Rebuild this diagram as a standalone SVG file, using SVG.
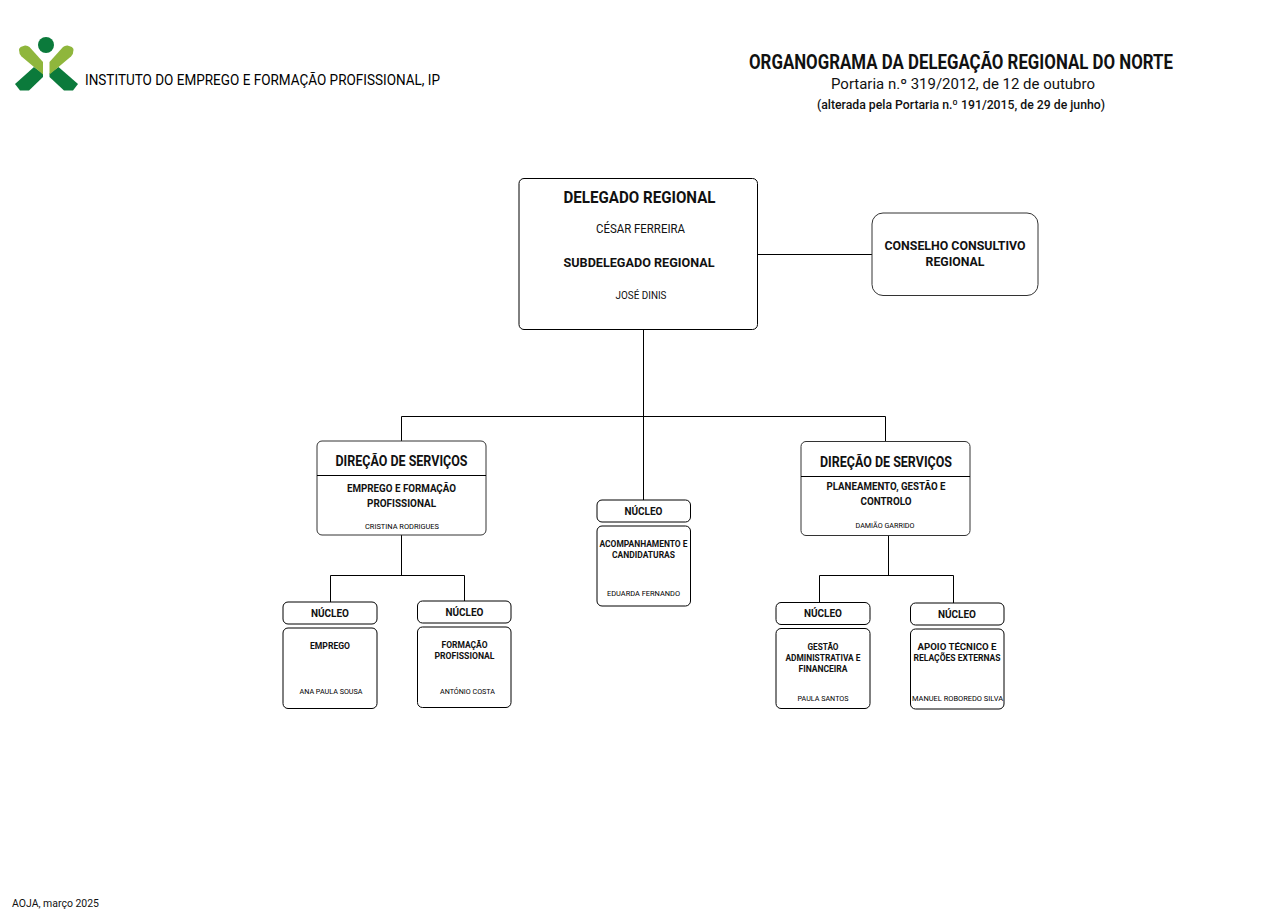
<svg xmlns="http://www.w3.org/2000/svg" width="1274" height="923" viewBox="0 0 1274 923">
<style>
text{font-family:"Roboto","Liberation Sans",sans-serif;fill:#111;text-anchor:middle}
.b{font-weight:700}
.m{font-weight:500}
.n{fill:#000}
.box{fill:#fff;stroke:#000;stroke-width:1}
.grey{fill:#fff;stroke:#333;stroke-width:1}
.c{fill:none;stroke:#000;stroke-width:1}
.lg{fill:#0b7a3b}
.ll{fill:#8fb63c}
</style>
<rect width="1274" height="923" fill="#fff"/>
<g id="logo">
<circle class="lg" cx="46" cy="45" r="8"/>
<path class="lg" d="M15 84L34 67L43 73.500V77L29 90.500H20Z"/>
<path class="lg" d="M78 84L58.500 67L49.500 73.500V77L64 90.500H73Z"/>
<path class="ll" d="M19 50Q19 47.500 22 46.500L25 45.500Q27.500 45.300 29.500 47L43 62V74.500L34 67L21.500 56.500Q19 54 19 50Z"/>
<path class="ll" d="M73.500 50Q73.500 47.500 70.500 46.500L67.500 45.500Q65 45.300 63 47L49.500 62V74.500L58.500 67L71 56.500Q73.500 54 73.500 50Z"/>
<text id="logo-text" class="n" x="262.500" y="85" font-size="15" textLength="355" lengthAdjust="spacingAndGlyphs">INSTITUTO DO EMPREGO E FORMAÇÃO PROFISSIONAL, IP</text>
</g>
<g id="title">
<text class="b" x="961" y="69" font-size="20" textLength="424" lengthAdjust="spacingAndGlyphs">ORGANOGRAMA DA DELEGAÇÃO REGIONAL DO NORTE</text>
<text x="963" y="89" font-size="14.500" textLength="264" lengthAdjust="spacingAndGlyphs">Portaria n.º 319/2012, de 12 de outubro</text>
<text class="m" x="961" y="109" font-size="12" textLength="288" lengthAdjust="spacingAndGlyphs">(alterada pela Portaria n.º 191/2015, de 29 de junho)</text>
</g>
<g id="connectors">
<path class="c" d="M757.500 254.500H872"/>
<path class="c" d="M643.500 330V500"/>
<path class="c" d="M401.500 441V416.500H885.500V441.500"/>
<path class="c" d="M401.500 535V575.500M330.500 602V575.500H464.500V601"/>
<path class="c" d="M888.500 536V575.500M819.500 602V575.500H953.500V603"/>
</g>
<g id="delegado">
<rect class="box" x="519" y="178.500" width="238.500" height="151" rx="5"/>
<text class="b" x="639.500" y="203" font-size="17" textLength="152" lengthAdjust="spacingAndGlyphs">DELEGADO REGIONAL</text>
<text x="640.500" y="233" font-size="12" textLength="89" lengthAdjust="spacingAndGlyphs">CÉSAR FERREIRA</text>
<text class="b" x="639" y="267" font-size="13.500" textLength="151" lengthAdjust="spacingAndGlyphs">SUBDELEGADO REGIONAL</text>
<text x="641" y="299" font-size="10.500" textLength="51" lengthAdjust="spacingAndGlyphs">JOSÉ DINIS</text>
</g>
<g id="conselho">
<rect class="grey" x="872" y="213" width="166" height="82.500" rx="11"/>
<text class="b" x="955" y="250" font-size="13.500" textLength="141" lengthAdjust="spacingAndGlyphs">CONSELHO CONSULTIVO</text>
<text class="b" x="955" y="266" font-size="13.500" textLength="59" lengthAdjust="spacingAndGlyphs">REGIONAL</text>
</g>
<g id="ds-emprego">
<rect class="grey" x="317" y="441" width="169" height="94" rx="5"/>
<path class="c" d="M317 475.500H486"/>
<text class="b" x="401.500" y="466" font-size="14.500" textLength="132" lengthAdjust="spacingAndGlyphs">DIREÇÃO DE SERVIÇOS</text>
<text class="b" x="401.500" y="492" font-size="10.500" textLength="109" lengthAdjust="spacingAndGlyphs">EMPREGO E FORMAÇÃO</text>
<text class="b" x="401.500" y="507" font-size="10.500" textLength="69" lengthAdjust="spacingAndGlyphs">PROFISSIONAL</text>
<text class="n" x="402" y="529" font-size="8" textLength="74" lengthAdjust="spacingAndGlyphs">CRISTINA RODRIGUES</text>
</g>
<g id="ds-planeamento">
<rect class="grey" x="801" y="441.500" width="169" height="94" rx="5"/>
<path class="c" d="M801 476.500H970"/>
<text class="b" x="886" y="467" font-size="14.500" textLength="132" lengthAdjust="spacingAndGlyphs">DIREÇÃO DE SERVIÇOS</text>
<text class="b" x="886" y="490" font-size="10.500" textLength="119" lengthAdjust="spacingAndGlyphs">PLANEAMENTO, GESTÃO E</text>
<text class="b" x="886" y="505" font-size="10.500" textLength="51" lengthAdjust="spacingAndGlyphs">CONTROLO</text>
<text class="n" x="885" y="528" font-size="8" textLength="59" lengthAdjust="spacingAndGlyphs">DAMIÃO GARRIDO</text>
</g>
<g id="n-acompanhamento">
<rect class="box" x="597" y="500" width="93.500" height="22" rx="5"/>
<text class="b" x="643.500" y="515" font-size="11" textLength="38" lengthAdjust="spacingAndGlyphs">NÚCLEO</text>
<rect class="box" x="597" y="526" width="93.500" height="80" rx="5"/>
<text class="b" x="643.500" y="547" font-size="9" textLength="88" lengthAdjust="spacingAndGlyphs">ACOMPANHAMENTO E</text>
<text class="b" x="643.500" y="558" font-size="9" textLength="63" lengthAdjust="spacingAndGlyphs">CANDIDATURAS</text>
<text class="n" x="643.500" y="596" font-size="8" textLength="73" lengthAdjust="spacingAndGlyphs">EDUARDA FERNANDO</text>
</g>
<g id="n-emprego">
<rect class="box" x="283" y="602" width="94" height="22" rx="5"/>
<text class="b" x="330" y="617" font-size="11" textLength="38" lengthAdjust="spacingAndGlyphs">NÚCLEO</text>
<rect class="box" x="283" y="628" width="94" height="80.500" rx="5"/>
<text class="b" x="330" y="649" font-size="9" textLength="40" lengthAdjust="spacingAndGlyphs">EMPREGO</text>
<text class="n" x="331" y="694" font-size="8" textLength="63" lengthAdjust="spacingAndGlyphs">ANA PAULA SOUSA</text>
</g>
<g id="n-formacao">
<rect class="box" x="417.500" y="601" width="93.500" height="22" rx="5"/>
<text class="b" x="464.500" y="616" font-size="11" textLength="38" lengthAdjust="spacingAndGlyphs">NÚCLEO</text>
<rect class="box" x="417.500" y="627" width="93.500" height="80.500" rx="5"/>
<text class="b" x="464.500" y="648" font-size="9" textLength="46" lengthAdjust="spacingAndGlyphs">FORMAÇÃO</text>
<text class="b" x="464.500" y="659" font-size="9" textLength="60" lengthAdjust="spacingAndGlyphs">PROFISSIONAL</text>
<text class="n" x="467.500" y="694" font-size="8" textLength="55" lengthAdjust="spacingAndGlyphs">ANTÓNIO COSTA</text>
</g>
<g id="n-gestao">
<rect class="box" x="776" y="602.500" width="94" height="22" rx="5"/>
<text class="b" x="823" y="617" font-size="11" textLength="38" lengthAdjust="spacingAndGlyphs">NÚCLEO</text>
<rect class="box" x="776" y="628.500" width="94" height="80" rx="5"/>
<text class="b" x="823" y="650" font-size="9" textLength="31" lengthAdjust="spacingAndGlyphs">GESTÃO</text>
<text class="b" x="823" y="661" font-size="9" textLength="75" lengthAdjust="spacingAndGlyphs">ADMINISTRATIVA E</text>
<text class="b" x="823" y="672" font-size="9" textLength="49" lengthAdjust="spacingAndGlyphs">FINANCEIRA</text>
<text class="n" x="823" y="701" font-size="8" textLength="51" lengthAdjust="spacingAndGlyphs">PAULA SANTOS</text>
</g>
<g id="n-apoio">
<rect class="box" x="910.500" y="603" width="93.500" height="22" rx="5"/>
<text class="b" x="957" y="617.500" font-size="11" textLength="38" lengthAdjust="spacingAndGlyphs">NÚCLEO</text>
<rect class="box" x="910.500" y="629" width="93.500" height="80" rx="5"/>
<text class="b" x="957" y="650" font-size="9" textLength="79" lengthAdjust="spacingAndGlyphs">APOIO TÉCNICO E</text>
<text class="b" x="957" y="661" font-size="9" textLength="87" lengthAdjust="spacingAndGlyphs">RELAÇÕES EXTERNAS</text>
<text class="n" x="957.500" y="701" font-size="8" textLength="91" lengthAdjust="spacingAndGlyphs">MANUEL ROBOREDO SILVA</text>
</g>
<text id="footer" x="55.500" y="907" font-size="10.500" textLength="87" lengthAdjust="spacingAndGlyphs">AOJA, março 2025</text>
</svg>
